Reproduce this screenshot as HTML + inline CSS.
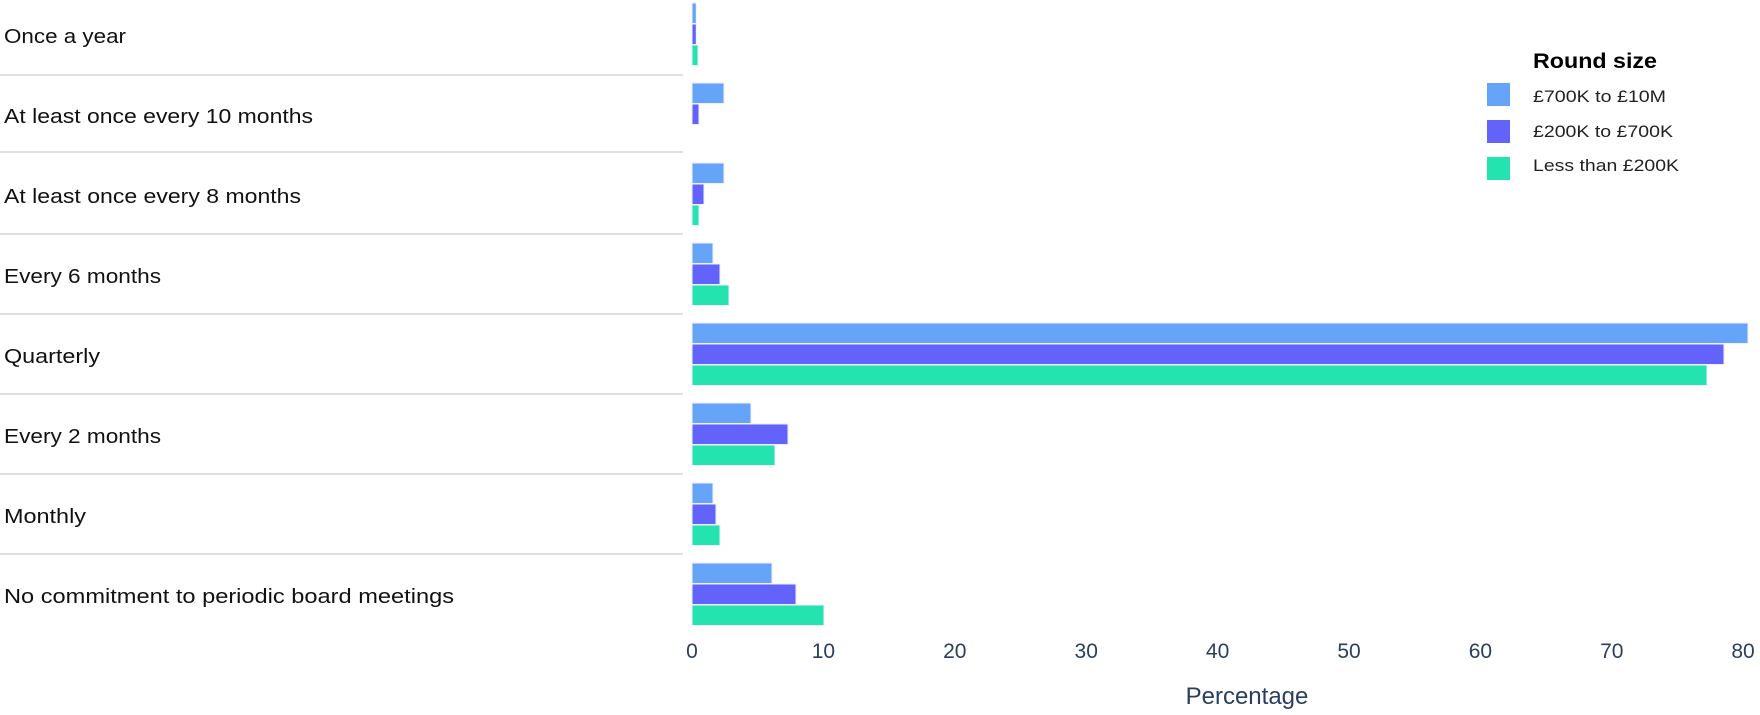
<!DOCTYPE html>
<html><head><meta charset="utf-8"><style>
html,body{margin:0;padding:0;background:#fff;}
svg{display:block;}
</style></head><body>
<svg width="1760" height="715" xmlns="http://www.w3.org/2000/svg" font-family="Liberation Sans, sans-serif">
<rect width="1760" height="715" fill="#fff"/>
<g stroke="#e0e0e0" stroke-width="2">
<line x1="0" y1="75" x2="683" y2="75"/>
<line x1="0" y1="152" x2="683" y2="152"/>
<line x1="0" y1="234" x2="683" y2="234"/>
<line x1="0" y1="314" x2="683" y2="314"/>
<line x1="0" y1="394" x2="683" y2="394"/>
<line x1="0" y1="474" x2="683" y2="474"/>
<line x1="0" y1="554" x2="683" y2="554"/>
</g>
<g font-size="20" fill="#111">
<text x="4" y="43" textLength="122" lengthAdjust="spacingAndGlyphs">Once a year</text>
<text x="4" y="123" textLength="309" lengthAdjust="spacingAndGlyphs">At least once every 10 months</text>
<text x="4" y="203" textLength="297" lengthAdjust="spacingAndGlyphs">At least once every 8 months</text>
<text x="4" y="283" textLength="157" lengthAdjust="spacingAndGlyphs">Every 6 months</text>
<text x="4" y="363" textLength="96" lengthAdjust="spacingAndGlyphs">Quarterly</text>
<text x="4" y="443" textLength="157" lengthAdjust="spacingAndGlyphs">Every 2 months</text>
<text x="4" y="523" textLength="82" lengthAdjust="spacingAndGlyphs">Monthly</text>
<text x="4" y="603" textLength="450" lengthAdjust="spacingAndGlyphs">No commitment to periodic board meetings</text>
</g>
<g stroke="#eef2ff" stroke-width="1">
<rect x="692" y="3" width="4.3" height="20.5" fill="#66a4fa"/>
<rect x="692" y="24" width="4.3" height="20.5" fill="#6363fc"/>
<rect x="692" y="45" width="6" height="20.5" fill="#25e3ae"/>
<rect x="692" y="83" width="32" height="20.5" fill="#66a4fa"/>
<rect x="692" y="104" width="7" height="20.5" fill="#6363fc"/>
<rect x="692" y="163" width="32" height="20.5" fill="#66a4fa"/>
<rect x="692" y="184" width="12" height="20.5" fill="#6363fc"/>
<rect x="692" y="205" width="7" height="20.5" fill="#25e3ae"/>
<rect x="692" y="243" width="21" height="20.5" fill="#66a4fa"/>
<rect x="692" y="264" width="28" height="20.5" fill="#6363fc"/>
<rect x="692" y="285" width="37" height="20.5" fill="#25e3ae"/>
<rect x="692" y="323" width="1056" height="20.5" fill="#66a4fa"/>
<rect x="692" y="344" width="1032" height="20.5" fill="#6363fc"/>
<rect x="692" y="365" width="1015" height="20.5" fill="#25e3ae"/>
<rect x="692" y="403" width="59" height="20.5" fill="#66a4fa"/>
<rect x="692" y="424" width="96" height="20.5" fill="#6363fc"/>
<rect x="692" y="445" width="83" height="20.5" fill="#25e3ae"/>
<rect x="692" y="483" width="21" height="20.5" fill="#66a4fa"/>
<rect x="692" y="504" width="24" height="20.5" fill="#6363fc"/>
<rect x="692" y="525" width="28" height="20.5" fill="#25e3ae"/>
<rect x="692" y="563" width="80" height="20.5" fill="#66a4fa"/>
<rect x="692" y="584" width="104" height="20.5" fill="#6363fc"/>
<rect x="692" y="605" width="132" height="20.5" fill="#25e3ae"/>
</g>
<g font-size="21" fill="#2a3f5f" text-anchor="middle">
<text x="692" y="658">0</text>
<text x="823.4" y="658">10</text>
<text x="954.8" y="658">20</text>
<text x="1086.2" y="658">30</text>
<text x="1217.6" y="658">40</text>
<text x="1349" y="658">50</text>
<text x="1480.4" y="658">60</text>
<text x="1611.8" y="658">70</text>
<text x="1743" y="658">80</text>
</g>
<text x="1247" y="704" font-size="24" fill="#2a3f5f" text-anchor="middle">Percentage</text>
<text x="1533" y="68" font-size="21" font-weight="bold" fill="#000" textLength="124" lengthAdjust="spacingAndGlyphs">Round size</text>
<rect x="1487" y="83" width="23" height="23" fill="#66a4fa"/>
<rect x="1487" y="120" width="23" height="23" fill="#6363fc"/>
<rect x="1487" y="157" width="23" height="23" fill="#25e3ae"/>
<g font-size="17" fill="#222">
<text x="1533" y="102" textLength="133" lengthAdjust="spacingAndGlyphs">£700K to £10M</text>
<text x="1533" y="137" textLength="140" lengthAdjust="spacingAndGlyphs">£200K to £700K</text>
<text x="1533" y="171" textLength="146" lengthAdjust="spacingAndGlyphs">Less than £200K</text>
</g>
</svg>
</body></html>
